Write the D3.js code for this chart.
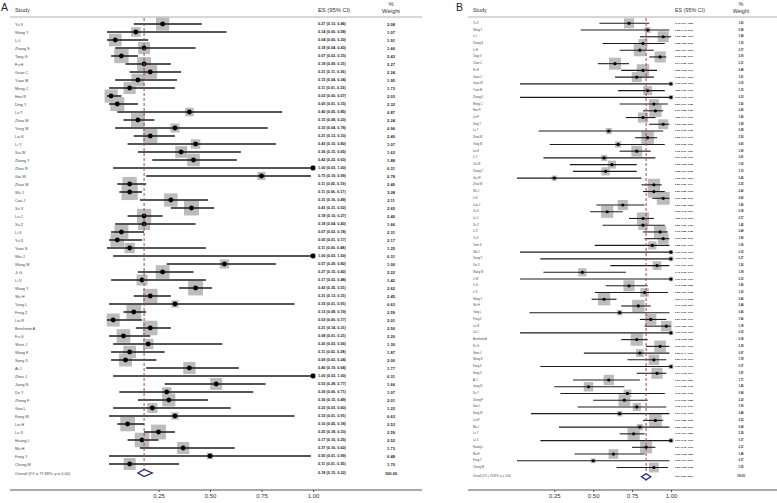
<!DOCTYPE html>
<html><head><meta charset="utf-8">
<script src="https://cdn.jsdelivr.net/npm/d3@7"></script>
<style>body{margin:0;background:#fff}svg{display:block}text{font-family:"Liberation Sans",Arial,Helvetica,sans-serif}</style>
</head><body>
<svg id="c" width="777" height="503"></svg>
<script>
// ---------- Panel A data ----------
const aStudies = ["Yu X","Wang Y","Li L","Zhang S","Tang G","Fu H","Guan C","Yuan M","Meng C","Han R","Ding Y","Lu T","Zhao W","Yang W","Liu K","Li Y","Xia W","Zhang Y","Zhou R","Gai W","Zhao W","Wu J","Cao J","Xu X","Lu C","Xu Z","Li X","Yu X","Yoon S","Wei J","Wang W","Ji G","Li X","Wang Y","Shi H","Yang L","Feng Z","Liu R","Bernheim A","Fu G","Shen J","Wang K","Song X","Ai J","Zhou J","Jiang N","Du Y","Zhong F","Gao L","Kong W","Liu H","Lu X","Huang L","Ma H","Fang Y","Chung M"];
const aES = [0.27,0.14,0.04,0.18,0.07,0.18,0.21,0.15,0.11,0.02,0.05,0.40,0.15,0.33,0.21,0.43,0.36,0.42,1.00,0.75,0.11,0.11,0.31,0.41,0.18,0.18,0.07,0.05,0.11,1.00,0.57,0.27,0.17,0.43,0.21,0.33,0.13,0.03,0.21,0.08,0.20,0.11,0.09,0.40,1.00,0.53,0.29,0.30,0.22,0.33,0.10,0.25,0.17,0.37,0.50,0.11];
const aLo = [0.13,0.00,0.00,0.04,0.02,0.09,0.11,0.04,0.01,0.00,0.01,0.05,0.08,0.04,0.13,0.10,0.15,0.22,0.03,0.19,0.05,0.06,0.16,0.31,0.10,0.04,0.02,0.01,0.00,0.03,0.29,0.15,0.02,0.35,0.13,0.01,0.08,0.00,0.14,0.01,0.03,0.02,0.02,0.19,0.03,0.28,0.06,0.15,0.03,0.01,0.05,0.18,0.10,0.16,0.01,0.01];
const aHi = [0.46,0.58,0.20,0.43,0.15,0.31,0.36,0.34,0.33,0.07,0.15,0.85,0.23,0.78,0.33,0.82,0.65,0.63,1.00,0.99,0.19,0.17,0.49,0.52,0.27,0.43,0.18,0.17,0.48,1.00,0.82,0.42,0.48,0.51,0.31,0.91,0.19,0.17,0.31,0.21,0.56,0.28,0.24,0.64,1.00,0.77,0.71,0.49,0.60,0.91,0.18,0.33,0.25,0.62,0.99,0.35];
const aWeight = [2.08,1.07,1.91,1.66,2.43,2.27,2.24,1.95,1.73,2.03,2.32,0.87,2.24,0.96,2.40,1.07,1.63,1.88,0.31,0.78,2.40,3.08,2.11,2.65,2.40,1.66,2.31,2.17,1.25,0.31,1.00,2.22,1.42,2.62,2.45,0.63,2.59,2.01,2.50,2.20,1.30,1.87,2.00,1.77,0.31,1.66,1.07,2.01,1.22,0.63,2.53,2.59,2.52,1.73,0.48,1.70];
const aOverall = {label:"Overall  (I^2 = 77.88%, p = 0.00)", es:0.18, lo:0.15, hi:0.22, weight:"100.00"};

// ---------- Panel B data ----------
const bStudies = ["Yu X","Wang Y","Li L","Zhang S","Li H","Tang G","Chen C","Fu H","Guan C","Guan W","Yuan M","Zhang X","Meng C","Han R","Lei P","Ding Y","Lu T","Zhao W","Yang W","Liu K","Li Y","Xia W","Zhang Y","Gai W","Zhao W","Wu J","Li K","Cao J","Xu X","Lu C","Xu Z","Li X","Yu X","Yoon S","Wei J","Xiong Y","Xie X","Wang W","Li W","Ji G","Li X","Wang Y","Shi H","Yang L","Feng Z","Liu R","Lin C","Bernheim A","Fu G","Shen J","Wang K","Fang X","Song X","Ai J","Jiang N","Du Y","Zhong F","Gao L","Kong W","Liu H","Ma J","Lu Y","Lu X","Huang L","Ma H","Fang Y","Chung M"];
const bES = [0.73,0.85,0.95,0.82,0.80,0.93,0.64,0.82,0.78,1.00,0.85,1.00,0.89,0.90,0.82,0.95,0.60,0.85,0.66,0.78,0.57,0.62,0.58,0.25,0.89,0.89,0.95,0.69,0.59,0.82,0.82,0.93,0.95,0.88,1.00,1.00,0.91,0.43,1.00,0.73,0.83,0.57,0.79,0.67,0.87,0.97,1.00,0.78,0.93,0.80,0.89,1.00,0.91,0.60,0.47,0.72,0.70,0.78,0.67,0.90,0.80,0.76,1.00,0.84,0.63,0.50,0.89];
const bLo = [0.54,0.42,0.80,0.56,0.67,0.86,0.53,0.68,0.64,0.03,0.66,0.03,0.67,0.82,0.71,0.86,0.15,0.77,0.22,0.67,0.18,0.35,0.37,0.01,0.81,0.82,0.88,0.52,0.48,0.73,0.56,0.82,0.83,0.51,0.03,0.16,0.61,0.18,0.03,0.58,0.51,0.49,0.68,0.09,0.80,0.83,0.03,0.68,0.84,0.44,0.72,0.16,0.78,0.37,0.25,0.29,0.50,0.40,0.10,0.82,0.28,0.67,0.16,0.75,0.38,0.01,0.65];
const bHi = [0.86,0.99,1.00,0.96,0.89,0.97,0.73,0.91,0.89,1.00,0.96,1.00,0.98,0.95,0.90,0.99,0.95,0.91,0.96,0.87,0.90,0.78,0.78,0.81,0.94,0.96,0.99,0.83,0.69,0.89,0.96,0.98,0.99,0.99,1.00,1.00,0.99,0.71,1.00,0.85,0.98,0.65,0.87,0.99,0.97,1.00,1.00,0.85,0.99,0.99,0.97,1.00,0.97,0.80,0.70,0.96,0.85,0.97,0.99,0.95,0.99,0.83,1.00,0.90,0.83,0.99,0.98];
const bWeight = [1.60,0.58,1.94,1.30,2.37,2.00,2.31,2.48,1.61,0.33,1.30,0.33,1.56,2.43,1.66,1.58,0.58,2.50,0.60,1.90,0.61,1.05,1.10,0.45,2.35,2.40,2.66,1.66,2.38,2.37,1.45,2.49,1.90,1.06,0.33,0.37,1.26,1.08,0.33,1.96,1.20,2.45,2.44,0.46,1.96,1.78,0.33,2.38,2.18,0.97,1.78,0.37,1.97,1.71,1.45,0.98,2.20,1.05,0.48,2.52,0.68,2.38,0.37,2.31,1.48,0.37,1.55];
const bOverall = {label:"Overall  (I^2 = 73.85%, p = 0.00)", es:0.84, lo:0.81, hi:0.87, weight:"100.00"};

const tickVals = [0.25, 0.50, 0.75, 1.00];
const f2 = d3.format(".2f");
const root = d3.select("#c").append("g");

function drawPanel(p) {
  const g = root.append("g");
  const n = p.names.length;
  const x = d3.scaleLinear().domain([0, 1]).range(p.xr);
  const y = d3.scalePoint().domain(d3.range(n)).range(p.yr);

  g.append("text").attr("x", p.letterX).attr("y", 11).attr("font-size", 10.5).attr("fill", "#222").text(p.letter);
  g.append("text").attr("x", p.nameX).attr("y", 12).attr("font-size", p.hfs).attr("fill", "#333").text("Study");
  g.append("text").attr("x", p.esX).attr("y", 12).attr("font-size", p.hfs).attr("fill", "#333").text("ES (95% CI)");
  g.append("text").attr("x", p.wX).attr("y", 5.5).attr("font-size", p.hfs).attr("text-anchor", "middle").attr("fill", "#333").text("%");
  g.append("text").attr("x", p.wX).attr("y", 12.5).attr("font-size", p.hfs).attr("text-anchor", "middle").attr("fill", "#333").text("Weight");
  g.append("line").attr("x1", p.ruleX[0]).attr("x2", p.ruleX[1]).attr("y1", 17).attr("y2", 17).attr("stroke", "#999").attr("stroke-width", 0.8);

  const rows = d3.range(n);
  g.selectAll(".box").data(rows).join("rect")
    .attr("x", i => x(p.es[i]) - p.boxK * Math.sqrt(p.w[i]) / 2)
    .attr("y", i => y(i) - p.boxK * Math.sqrt(p.w[i]) / 2)
    .attr("width", i => p.boxK * Math.sqrt(p.w[i]))
    .attr("height", i => p.boxK * Math.sqrt(p.w[i]))
    .attr("fill", "#bcbcbc");
  g.selectAll(".ci").data(rows).join("line")
    .attr("x1", i => x(p.lo[i])).attr("x2", i => x(p.hi[i]))
    .attr("y1", i => y(i)).attr("y2", i => y(i))
    .attr("stroke", "#1c1c1c").attr("stroke-width", p.lw);
  g.selectAll(".pt").data(rows).join("circle")
    .attr("cx", i => x(p.es[i])).attr("cy", i => y(i)).attr("r", p.pr).attr("fill", "#000");
  g.selectAll(".nm").data(rows).join("text")
    .attr("x", p.nameX).attr("y", i => y(i)).attr("dominant-baseline", "central")
    .attr("font-size", p.nfs).attr("fill", "#444").text(i => p.names[i]);
  g.selectAll(".es").data(rows).join("text")
    .attr("x", p.esX).attr("y", i => y(i)).attr("dominant-baseline", "central")
    .attr("font-size", p.efs).attr("font-weight", "bold").attr("fill", "#222")
    .text(i => `${f2(p.es[i])} (${f2(p.lo[i])}, ${f2(p.hi[i])})`);
  g.selectAll(".wt").data(rows).join("text")
    .attr("x", p.wX).attr("y", i => y(i)).attr("dominant-baseline", "central").attr("text-anchor", "middle")
    .attr("font-size", p.wfs).attr("font-weight", "bold").attr("fill", "#222")
    .text(i => f2(p.w[i]));

  const o = p.overall;
  g.append("line").attr("x1", x(o.es)).attr("x2", x(o.es)).attr("y1", 18).attr("y2", p.oy + 5)
    .attr("stroke", "#9b4a5e").attr("stroke-width", 1).attr("stroke-dasharray", "3,2");
  g.append("path")
    .attr("d", `M${x(o.lo)},${p.oy} L${x(o.es)},${p.oy - p.dh} L${x(o.hi)},${p.oy} L${x(o.es)},${p.oy + p.dh} Z`)
    .attr("fill", "#fff").attr("stroke", "#1f2a6e").attr("stroke-width", 1.3);
  g.append("text").attr("x", p.nameX).attr("y", p.oy).attr("dominant-baseline", "central")
    .attr("font-size", p.nfs).attr("fill", "#444").text(o.label);
  g.append("text").attr("x", p.esX).attr("y", p.oy).attr("dominant-baseline", "central")
    .attr("font-size", p.efs).attr("font-weight", "bold").attr("fill", "#222")
    .text(`${f2(o.es)} (${f2(o.lo)}, ${f2(o.hi)})`);
  g.append("text").attr("x", p.wX).attr("y", p.oy).attr("dominant-baseline", "central").attr("text-anchor", "middle")
    .attr("font-size", p.wfs).attr("font-weight", "bold").attr("fill", "#222").text(o.weight);

  g.append("line").attr("x1", p.ruleX[0]).attr("x2", p.ruleX[1]).attr("y1", p.axY).attr("y2", p.axY)
    .attr("stroke", "#555").attr("stroke-width", 1);
  const ax = g.append("g").attr("transform", `translate(0,${p.axY})`)
    .call(d3.axisBottom(x).tickValues(tickVals).tickFormat(f2).tickSize(2).tickPadding(1.5));
  ax.select(".domain").remove();
  ax.selectAll(".tick line").attr("stroke", "#555");
  ax.selectAll(".tick text").attr("font-size", 6).attr("fill", "#333")
    .attr("font-family", '"Liberation Sans",Arial,sans-serif');
}

drawPanel({
  letter: "A", letterX: 1,
  names: aStudies, es: aES, lo: aLo, hi: aHi, w: aWeight, overall: aOverall,
  xr: [107, 313], yr: [24, 464], oy: 473, axY: 490,
  boxK: 9.2, pr: 2.4, lw: 1.5, dh: 3.5,
  nameX: 15, nfs: 3.9, esX: 318, efs: 3.8, wX: 391, wfs: 4.0, hfs: 5.8,
  ruleX: [10, 422]
});
drawPanel({
  letter: "B", letterX: 456,
  names: bStudies, es: bES, lo: bLo, hi: bHi, w: bWeight, overall: bOverall,
  xr: [515.4, 671], yr: [23.3, 467.5], oy: 476.7, axY: 490,
  boxK: 7.9, pr: 1.6, lw: 1.1, dh: 3,
  nameX: 473, nfs: 2.7, esX: 675, efs: 2.5, wX: 741, wfs: 2.6, hfs: 5.4,
  ruleX: [468, 777]
});
</script>
</body></html>
